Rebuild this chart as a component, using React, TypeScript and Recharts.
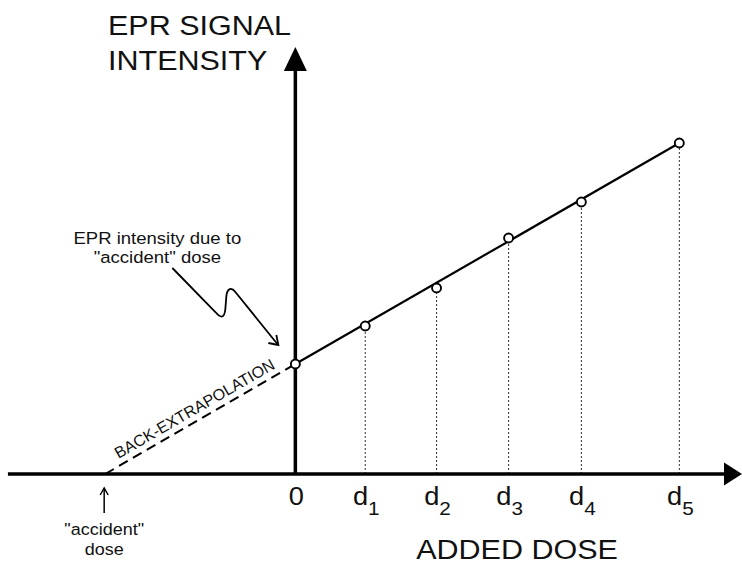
import { ComposedChart, Line, XAxis, YAxis, ReferenceLine, ReferenceDot, Customized } from 'recharts'

// measured points (dose in arbitrary units, signal in arbitrary units)
const doses = [0, 0.97, 1.96, 2.96, 3.97, 5.33]
const signals = [11.0, 14.8, 18.6, 23.6, 27.2, 33.1]
const tickLabels = ['0', 'd1', 'd2', 'd3', 'd4', 'd5']

// fitted line through the points
const fitDoses = [0, 5.33]
const fitSignals = [11.0, 33.1]

// back-extrapolated intercept on the dose axis
const accidentDose = -2.64

const X_MIN = -4.1
const X_MAX = 6.2
const Y_MAX = 46
const X_AXIS_START = -3.99
const Y_AXIS_TOP = 42.7

const FONT = '"Liberation Sans", Arial, Helvetica, sans-serif'
const STRETCH = 1.09

const points = doses.map((dose, i) => ({ dose, signal: signals[i] }))
const fitData = fitDoses.map((dose, i) => ({ dose, fit: fitSignals[i] }))
const backData = [
  { dose: accidentDose, back: 0 },
  { dose: 0, back: fitSignals[0] },
]

const Txt = ({ x, y, size, anchor = 'middle', children }: any) => (
  <text
    transform={`translate(${x} ${y}) scale(${STRETCH} 1)`}
    textAnchor={anchor}
    fontSize={size}
    fontFamily={FONT}
    fill="#111"
  >
    {children}
  </text>
)

const DoseTick = ({ x, y, payload }: any) => {
  const idx = doses.indexOf(payload.value)
  const label = tickLabels[idx] ?? ''
  return (
    <text
      transform={`translate(${x + 1} ${y + 31}) scale(${STRETCH} 1)`}
      textAnchor="middle"
      fontFamily={FONT}
      fill="#111"
    >
      <tspan fontSize={25}>{label.charAt(0)}</tspan>
      {label.length > 1 && (
        <tspan fontSize={19} dy={10}>{label.slice(1)}</tspan>
      )}
    </text>
  )
}

// thick axis line with a filled arrowhead at its end
const ArrowAxis = (props: any) => {
  const { x1, y1, x2, y2 } = props
  const horizontal = Math.abs(y2 - y1) < Math.abs(x2 - x1)
  if (horizontal) {
    return (
      <g>
        <line x1={x1} y1={y1} x2={x2 - 14} y2={y2} stroke="#000" strokeWidth={3.5} />
        <polygon points={`${x2},${y2} ${x2 - 18},${y2 - 11.5} ${x2 - 18},${y2 + 11.5}`} fill="#000" />
      </g>
    )
  }
  return (
    <g>
      <line x1={x1} y1={y1} x2={x2} y2={y2 + 14} stroke="#000" strokeWidth={3.5} />
      <polygon points={`${x2},${y2} ${x2 - 11.5},${y2 + 24} ${x2 + 11.5},${y2 + 24}`} fill="#000" />
    </g>
  )
}

// squiggly pointer to the intercept, with its caption
const InterceptNote = ({ cx, cy }: any) => (
  <g>
    <path
      d={`M ${cx - 123} ${cy - 96} L ${cx - 80} ${cy - 52} C ${cx - 74} ${cy - 45} ${cx - 71} ${cy - 46} ${cx - 70} ${cy - 55} L ${cx - 69} ${cy - 68} C ${cx - 68} ${cy - 76} ${cx - 64} ${cy - 77} ${cx - 60} ${cy - 72} L ${cx - 18} ${cy - 20}`}
      fill="none"
      stroke="#000"
      strokeWidth={1.8}
    />
    <path
      d={`M ${cx - 19} ${cy - 29} L ${cx - 17} ${cy - 19} L ${cx - 27} ${cy - 21}`}
      fill="none"
      stroke="#000"
      strokeWidth={1.8}
    />
    <Txt x={cx - 138} y={cy - 120} size={17}>EPR intensity due to</Txt>
    <Txt x={cx - 138} y={cy - 101} size={17}>"accident" dose</Txt>
  </g>
)

const AccidentNote = ({ cx, cy }: any) => (
  <g>
    <line x1={cx - 1} y1={cy + 39} x2={cx - 1} y2={cy + 15} stroke="#000" strokeWidth={1.5} />
    <path d={`M ${cx - 5} ${cy + 21} L ${cx - 1} ${cy + 14} L ${cx + 3} ${cy + 21}`} fill="none" stroke="#000" strokeWidth={1.5} />
    <Txt x={cx - 1} y={cy + 61} size={16.5}>"accident"</Txt>
    <Txt x={cx - 1} y={cy + 81} size={16.5}>dose</Txt>
  </g>
)

const BackLabel = ({ cx, cy }: any) => (
  <text
    transform={`translate(${cx - 3} ${cy - 5.5}) rotate(-30)`}
    textAnchor="middle"
    fontSize={16}
    fontFamily={FONT}
    fill="#111"
  >
    BACK-EXTRAPOLATION
  </text>
)

const AxisTitles = () => (
  <g>
    <Txt x={108} y={35} size={28} anchor="start">EPR SIGNAL</Txt>
    <Txt x={108} y={70} size={28} anchor="start">INTENSITY</Txt>
    <Txt x={517} y={559} size={28}>ADDED DOSE</Txt>
  </g>
)

export default function App() {
  return (
    <div style={{ position: 'absolute', left: 0, top: 0, width: 742, height: 566, background: '#fff' }}>
      <ComposedChart width={742} height={566} data={points} margin={{ top: 14, right: 0, bottom: 0, left: 0 }}>
        <XAxis
          dataKey="dose"
          type="number"
          domain={[X_MIN, X_MAX]}
          ticks={doses}
          interval={0}
          tick={DoseTick}
          axisLine={false}
          tickLine={false}
          tickSize={0}
          tickMargin={0}
          height={92}
          allowDataOverflow
        />
        <YAxis type="number" domain={[0, Y_MAX]} hide allowDataOverflow />

        {doses.slice(1).map((d, i) => (
          <ReferenceLine
            key={`drop-${i}`}
            segment={[{ x: d, y: 0 }, { x: d, y: signals[i + 1] }]}
            stroke="#333"
            strokeWidth={1}
            strokeDasharray="2 2"
          />
        ))}

        <ReferenceLine segment={[{ x: X_AXIS_START, y: 0 }, { x: X_MAX, y: 0 }]} shape={ArrowAxis} />
        <ReferenceLine segment={[{ x: 0, y: 0 }, { x: 0, y: Y_AXIS_TOP }]} shape={ArrowAxis} />

        <Line
          data={backData}
          dataKey="back"
          stroke="#000"
          strokeWidth={2}
          strokeDasharray="10 6"
          dot={false}
          isAnimationActive={false}
        />
        <Line
          data={fitData}
          dataKey="fit"
          stroke="#000"
          strokeWidth={2.2}
          dot={false}
          isAnimationActive={false}
        />
        <Line
          dataKey="signal"
          stroke="none"
          dot={{ r: 4.5, fill: '#fff', stroke: '#000', strokeWidth: 1.9 }}
          isAnimationActive={false}
        />

        <ReferenceDot x={0} y={fitSignals[0]} r={0} shape={InterceptNote} />
        <ReferenceDot x={accidentDose} y={0} r={0} shape={AccidentNote} />
        <ReferenceDot x={accidentDose / 2} y={fitSignals[0] / 2} r={0} shape={BackLabel} />

        <Customized component={AxisTitles} />
      </ComposedChart>
    </div>
  )
}
